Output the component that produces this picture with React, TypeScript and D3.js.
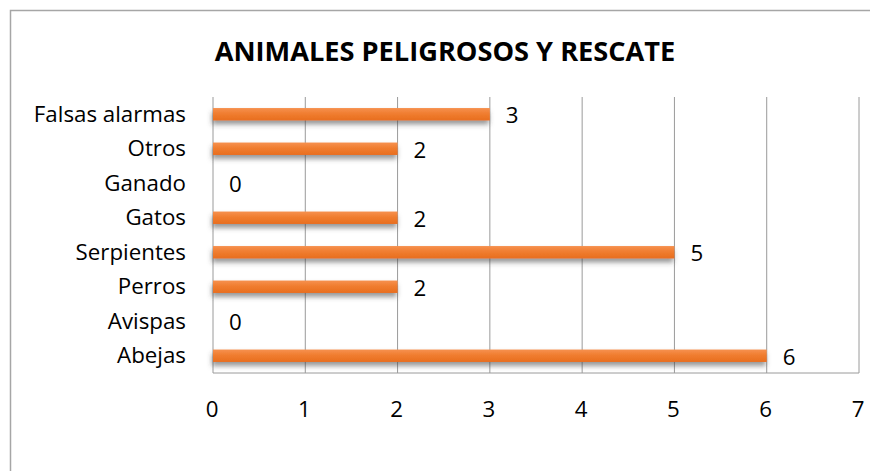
import React from "react";
import * as d3 from "d3";

const categories = ["Falsas alarmas", "Otros", "Ganado", "Gatos", "Serpientes", "Perros", "Avispas", "Abejas"];
const values = [3, 2, 0, 2, 5, 2, 0, 6];
const xTicks = [0, 1, 2, 3, 4, 5, 6, 7];
const title = "ANIMALES PELIGROSOS Y RESCATE";

const W = 870;
const H = 471;
const FONT = "'Open Sans', 'Noto Sans', sans-serif";

export default function App() {
  const x = d3.scaleLinear().domain([0, 7]).range([213, 859]);
  const y = d3
    .scaleBand<string>()
    .domain(categories)
    .range([97, 373])
    .paddingInner(0.64)
    .paddingOuter(0.32);
  const bw = y.bandwidth();
  const grid = "#9a9a9a";

  return (
    <svg
      width={W}
      height={H}
      viewBox={`0 0 ${W} ${H}`}
      style={{ position: "absolute", left: 0, top: 0, background: "#fff" }}
    >
      <defs>
        <linearGradient id="barGrad" x1="0" y1="0" x2="0" y2="1">
          <stop offset="0%" stopColor="#f6914f" />
          <stop offset="45%" stopColor="#f07d30" />
          <stop offset="100%" stopColor="#e86e1e" />
        </linearGradient>
        <filter id="shadow" x="-5%" y="-50%" width="110%" height="250%">
          <feDropShadow dx="-1" dy="4" stdDeviation="2.4" floodColor="#444" floodOpacity="0.55" />
        </filter>
      </defs>
      <rect x={0} y={0} width={W} height={H} fill="#fff" />
      {/* outer chart border */}
      <path d={`M10.5,${H + 5} L10.5,10.5 L${W + 5},10.5`} fill="none" stroke="#a6a6a6" strokeWidth={1.5} />

      <text
        x={445}
        y={61}
        textAnchor="middle"
        fontFamily={FONT}
        fontWeight={700}
        fontSize={27.2}
        fill="#000"
      >
        {title}
      </text>

      {/* gridlines */}
      {xTicks.map((t) => (
        <line key={t} x1={x(t)} x2={x(t)} y1={97} y2={373} stroke={grid} strokeWidth={1} />
      ))}
      <line x1={x(0)} x2={x(7)} y1={373} y2={373} stroke={grid} strokeWidth={1} />

      {/* bars */}
      {categories.map((c, i) =>
        values[i] > 0 ? (
          <rect
            key={c}
            x={x(0)}
            y={y(c)!}
            width={x(values[i]) - x(0)}
            height={bw}
            fill="url(#barGrad)"
            filter="url(#shadow)"
          />
        ) : null
      )}

      {/* value labels */}
      {categories.map((c, i) => (
        <text
          key={c}
          x={x(values[i]) + 16}
          y={y(c)! + bw / 2 + 9}
          fontFamily={FONT}
          fontSize={22.3}
          fill="#000"
        >
          {values[i]}
        </text>
      ))}

      {/* category labels */}
      {categories.map((c) => (
        <text
          key={c}
          x={186}
          y={y(c)! + bw / 2 + 7.5}
          textAnchor="end"
          fontFamily={FONT}
          fontSize={22.3}
          fill="#000"
        >
          {c}
        </text>
      ))}

      {/* x tick labels */}
      {xTicks.map((t) => (
        <text
          key={t}
          x={x(t) - 1}
          y={417}
          textAnchor="middle"
          fontFamily={FONT}
          fontSize={22.3}
          fill="#000"
        >
          {t}
        </text>
      ))}
    </svg>
  );
}
